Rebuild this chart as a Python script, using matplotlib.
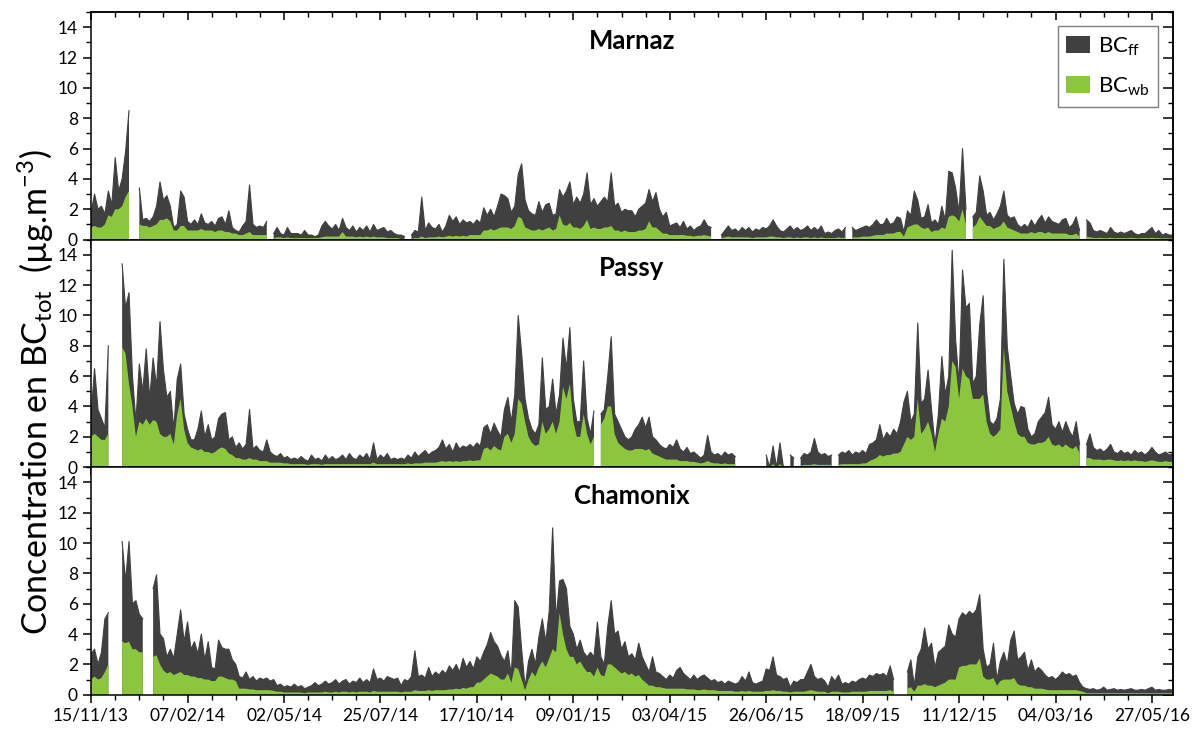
import numpy as np
import matplotlib
matplotlib.use('Agg')
import matplotlib.pyplot as plt
import matplotlib.dates as mdates
from matplotlib.patches import Patch
from matplotlib.ticker import FixedLocator, MultipleLocator

nan = np.nan

# series sampled every 3 days from 15/11/2013
start = np.datetime64('2013-11-15')
step_days = 3

sites = ['Marnaz', 'Passy', 'Chamonix']

marnaz_tot = [
    1.8, 3.0, 2.0, 2.2, 1.7, 3.2, 2.3, 5.4, 3.2, 4.0,   # d0
    5.8, 8.5, nan, nan, 3.4, 1.3, 1.4, 1.2, 1.5, 2.2,   # d30
    3.8, 2.6, 2.9, 2.2, 0.8, 1.0, 3.2, 2.8, 1.2, 1.0,   # d60
    1.3, 1.0, 1.7, 1.1, 1.0, 1.2, 0.9, 1.4, 1.5, 1.0,   # d90
    1.9, 0.8, 0.6, 0.5, 0.9, 1.2, 3.6, 1.0, 0.8, 0.9,   # d120
    0.8, 1.2, nan, 0.4, 0.8, 0.4, 0.3, 0.8, 0.4, 0.4,   # d150
    0.4, 0.3, 0.6, 0.3, 0.3, 0.2, 0.3, 0.9, 1.2, 0.9,   # d180
    0.7, 1.0, 0.6, 1.4, 0.8, 0.6, 0.9, 0.5, 0.8, 0.6,   # d210
    0.9, 0.5, 1.0, 0.6, 0.7, 0.8, 0.5, 0.6, 0.4, 0.3,   # d240
    0.3, 0.2, nan, 0.3, 0.6, 0.5, 2.8, 0.6, 1.1, 0.8,   # d270
    0.7, 1.0, 0.5, 0.9, 1.6, 1.2, 1.5, 1.0, 1.3, 1.1,   # d300
    1.2, 1.0, 1.3, 1.1, 2.1, 1.6, 2.0, 1.5, 2.2, 3.0,   # d330
    2.9, 2.7, 1.8, 2.2, 4.3, 5.0, 2.6, 1.9, 1.7, 1.6,   # d360
    2.5, 1.8, 2.3, 2.4, 1.6, 1.7, 3.3, 2.8, 3.2, 3.8,   # d390
    2.3, 2.8, 2.4, 3.0, 4.4, 2.3, 2.7, 2.2, 2.5, 2.8,   # d420
    2.5, 4.4, 2.2, 2.4, 1.8, 2.0, 1.9, 1.9, 1.5, 2.0,   # d450
    2.2, 2.4, 3.3, 2.5, 3.1, 2.0, 1.5, 1.8, 0.9, 1.0,   # d480
    1.1, 0.8, 1.2, 0.7, 0.9, 0.6, 0.8, 0.9, 1.3, 0.9,   # d510
    0.8, nan, nan, 0.3, 0.6, 0.9, 0.6, 0.7, 0.5, 0.8,   # d540
    0.6, 0.8, 0.5, 0.7, 0.6, 0.8, 0.7, 0.9, 1.3, 0.9,   # d570
    0.6, 0.5, 0.7, 0.9, 0.6, 0.8, 0.6, 0.7, 0.9, 0.6,   # d600
    0.8, 0.6, 0.9, 0.4, 0.5, 0.4, 0.6, 0.7, 0.5, 0.8,   # d630
    nan, 0.8, 0.6, 0.7, 0.8, 0.9, 0.8, 1.0, 1.3, 1.0,   # d660
    1.0, 1.4, 1.0, 1.1, 1.5, 1.4, 0.5, 1.9, 1.6, 3.2,   # d690
    2.6, 1.4, 1.5, 2.3, 1.1, 1.3, 1.0, 2.2, 1.3, 4.5,   # d720
    4.4, 3.4, 1.8, 6.0, 2.0, nan, 1.5, 1.8, 4.2, 3.2,   # d750
    1.6, 1.8, 1.3, 1.7, 2.2, 3.2, 1.6, 1.4, 1.5, 1.0,   # d780
    0.8, 1.0, 0.8, 1.3, 0.9, 1.3, 1.6, 1.1, 1.5, 1.2,   # d810
    1.1, 1.0, 1.3, 1.4, 0.8, 1.0, 1.5, 0.6, nan, 1.3,   # d840
    1.1, 0.6, 0.5, 0.6, 0.5, 0.4, 0.8, 0.5, 0.4, 0.5,   # d870
    0.4, 0.5, 0.6, 0.4, 0.3, 0.4, 0.4, 0.6, 0.8, 0.4,   # d900
    0.6, 0.3, 0.4, 0.3, 0.3,                            # d930
]
marnaz_wb = [
    0.8, 0.9, 0.8, 0.8, 1.0, 1.6, 1.5, 2.0, 2.0, 2.2,
    2.8, 3.2, nan, nan, 1.0, 0.9, 0.9, 0.8, 0.9, 1.0,
    1.3, 1.3, 1.4, 1.2, 0.6, 0.6, 0.9, 0.9, 0.6, 0.6,
    0.6, 0.6, 0.7, 0.6, 0.6, 0.6, 0.5, 0.6, 0.6, 0.5,
    0.5, 0.4, 0.4, 0.3, 0.3, 0.4, 0.5, 0.3, 0.3, 0.3,
    0.3, 0.3, nan, 0.1, 0.15, 0.15, 0.1, 0.15, 0.1, 0.1,
    0.1, 0.1, 0.1, 0.1, 0.1, 0.1, 0.1, 0.15, 0.2, 0.2,
    0.2, 0.2, 0.2, 0.5, 0.2, 0.2, 0.2, 0.15, 0.2, 0.15,
    0.2, 0.15, 0.2, 0.15, 0.15, 0.15, 0.1, 0.1, 0.1, 0.1,
    0.05, 0.05, nan, 0.05, 0.1, 0.1, 0.2, 0.1, 0.15, 0.15,
    0.15, 0.2, 0.15, 0.2, 0.25, 0.2, 0.25, 0.2, 0.25, 0.2,
    0.3, 0.3, 0.3, 0.3, 0.6, 0.6, 0.7, 0.6, 0.7, 0.8,
    0.8, 0.8, 0.7, 0.9, 1.5, 1.4, 0.8, 0.7, 0.6, 0.6,
    0.7, 0.6, 0.7, 0.8, 0.6, 0.7, 1.6, 1.0, 0.9, 1.1,
    0.8, 0.8, 0.7, 0.9, 1.3, 0.7, 0.8, 0.7, 0.7, 0.8,
    0.8, 0.9, 0.6, 0.6, 0.5, 0.6, 0.5, 0.5, 0.5, 0.6,
    0.6, 0.7, 1.2, 0.8, 0.8, 0.6, 0.4, 0.4, 0.3, 0.3,
    0.3, 0.3, 0.3, 0.25, 0.25, 0.2, 0.25, 0.25, 0.3, 0.25,
    0.2, nan, nan, 0.1, 0.15, 0.2, 0.15, 0.15, 0.15, 0.15,
    0.15, 0.15, 0.1, 0.15, 0.15, 0.15, 0.15, 0.2, 0.2, 0.15,
    0.15, 0.1, 0.15, 0.15, 0.1, 0.15, 0.1, 0.15, 0.15, 0.1,
    0.15, 0.1, 0.15, 0.1, 0.1, 0.1, 0.1, 0.15, 0.1, 0.15,
    nan, 0.15, 0.15, 0.15, 0.2, 0.2, 0.2, 0.25, 0.3, 0.3,
    0.3, 0.4, 0.4, 0.4, 0.5, 0.5, 0.2, 0.8, 0.9, 1.0,
    1.0, 0.8, 0.7, 0.8, 0.5, 0.6, 0.6, 0.8, 0.7, 1.5,
    1.6, 1.5, 1.2, 2.0, 1.0, nan, 0.8, 1.0, 1.5, 1.2,
    0.9, 0.9, 0.7, 0.8, 0.9, 1.2, 0.8, 0.7, 0.6, 0.5,
    0.4, 0.4, 0.4, 0.5, 0.4, 0.5, 0.5, 0.4, 0.5, 0.4,
    0.4, 0.4, 0.4, 0.4, 0.3, 0.3, 0.4, 0.2, nan, 0.2,
    0.15, 0.12, 0.1, 0.12, 0.1, 0.1, 0.12, 0.1, 0.1, 0.1,
    0.1, 0.1, 0.12, 0.1, 0.08, 0.1, 0.1, 0.1, 0.12, 0.1,
    0.1, 0.08, 0.1, 0.08, 0.08,
]

passy_tot = [
    3.5, 6.5, 3.8, 3.2, 2.6, 8.0, nan, nan, nan, 13.4,
    10.5, 11.5, 6.0, 3.0, 6.8, 5.0, 7.8, 4.5, 7.2, 5.3,
    9.6, 6.4, 4.6, 5.0, 2.5, 5.8, 6.8, 3.5, 2.5, 1.8,
    1.8, 2.5, 3.7, 2.0, 2.8, 1.8, 2.0, 3.2, 3.5, 3.6,
    1.8, 2.0, 1.3, 1.6, 1.2, 1.5, 3.8, 1.2, 1.4, 1.1,
    1.0, 1.8, 1.0, 0.8, 0.7, 0.9, 0.6, 0.7, 0.5, 0.6,
    0.5, 0.7, 0.5, 0.4, 0.8, 0.5, 0.6, 0.4, 0.8, 0.5,
    0.7, 0.5, 0.6, 0.8, 0.5, 0.9, 0.6, 0.5, 0.8, 0.6,
    0.9, 0.5, 1.6, 0.5, 0.8, 0.6, 0.9, 0.5, 0.6, 0.5,
    0.6, 0.5, 0.8, 0.6, 1.0, 0.7, 0.9, 1.1, 0.8, 1.0,
    1.1, 1.3, 1.8, 1.2, 1.5, 1.0, 1.6, 1.2, 1.4, 1.3,
    1.5, 1.3, 1.6, 1.4, 2.6, 2.8, 2.2, 2.9, 2.4, 2.0,
    3.8, 4.6, 3.0, 4.8, 10.0, 7.5, 4.5, 3.2, 2.5, 2.2,
    2.8, 7.2, 3.8, 4.0, 5.8, 3.5, 4.8, 8.5, 6.5, 9.2,
    4.5, 3.0, 3.0, 7.0, 3.2, 2.2, 3.7, nan, 3.5, 3.8,
    6.0, 8.6, 3.5, 3.0, 2.5, 2.0, 1.8, 2.0, 2.5, 2.8,
    3.3, 2.6, 3.3, 2.0, 1.8, 1.5, 1.3, 1.2, 1.5, 1.3,
    1.8, 1.2, 1.0, 1.3, 0.9, 1.0, 0.8, 0.6, 0.8, 2.1,
    1.0, 0.8, 0.9, 0.7, 1.0, 0.8, 0.9, 0.7, nan, nan,
    nan, nan, nan, nan, nan, nan, 0.8, 0.0, 1.4, 0.0,
    1.6, 0.0, nan, 0.8, 0.6, nan, 0.6, 0.9, 0.8, 1.0,
    1.9, 1.0, 0.8, 0.9, 0.7, 0.8, nan, 0.8, 1.0, 0.9,
    1.1, 0.8, 1.0, 0.9, 1.1, 0.9, 1.5, 1.6, 1.8, 2.8,
    1.8, 2.3, 2.0, 2.5, 2.2, 3.0, 4.3, 5.0, 3.0, 3.5,
    9.5, 4.2, 4.5, 6.4, 3.8, 1.5, 3.5, 7.3, 4.8, 6.0,
    14.3, 8.4, 5.5, 13.0, 10.5, 10.8, 5.5, 6.0, 9.4, 11.3,
    5.0, 3.0, 2.8, 3.2, 4.5, 13.7, 7.9, 6.0, 4.2, 3.5,
    4.0, 3.9, 2.5, 2.0, 2.2, 3.0, 3.3, 3.6, 4.6, 2.8,
    2.5, 3.0, 2.3, 3.0, 2.4, 2.0, 3.0, 1.5, nan, 1.5,
    2.2, 1.3, 1.1, 1.2, 1.0, 1.2, 1.5, 1.0, 0.9, 1.1,
    0.9, 1.0, 0.8, 1.1, 0.9, 1.0, 0.8, 1.0, 1.3, 1.0,
    0.8, 0.9, 1.0, 0.8, 0.9,
]
passy_wb = [
    2.0, 2.2, 2.0, 1.8, 1.8, 2.2, nan, nan, nan, 7.9,
    7.5, 5.5, 4.0, 2.0, 3.0, 2.8, 3.2, 2.8, 3.1, 3.0,
    2.2, 2.0, 2.0, 2.2, 1.5, 3.5, 4.5, 2.5, 1.6, 1.3,
    1.2, 1.1, 1.2, 1.0, 1.0, 0.9, 1.0, 1.2, 1.3, 1.2,
    0.9, 0.8, 0.6, 0.6, 0.5, 0.5, 0.6, 0.5, 0.5, 0.4,
    0.4, 0.4, 0.3, 0.3, 0.3, 0.3, 0.25, 0.25, 0.2, 0.2,
    0.2, 0.2, 0.2, 0.15, 0.2, 0.2, 0.2, 0.15, 0.2, 0.2,
    0.2, 0.2, 0.2, 0.2, 0.2, 0.2, 0.2, 0.2, 0.2, 0.2,
    0.2, 0.2, 0.3, 0.2, 0.2, 0.2, 0.2, 0.2, 0.2, 0.2,
    0.2, 0.2, 0.25, 0.2, 0.25, 0.25, 0.25, 0.3, 0.3, 0.3,
    0.3, 0.35, 0.4, 0.35, 0.4, 0.35, 0.4, 0.35, 0.4, 0.4,
    0.45, 0.4, 0.45, 0.45, 1.2, 1.3, 1.1, 1.4, 1.2, 1.1,
    2.0, 2.2, 1.6, 2.2, 4.5, 4.2, 3.0, 2.0, 1.6, 1.4,
    1.5, 3.0, 2.2, 2.5, 3.0, 2.2, 3.0, 5.3, 4.5, 5.5,
    3.0, 2.0, 2.0, 3.5, 2.2, 1.5, 2.0, nan, 2.8, 3.2,
    4.0, 4.0, 2.2, 1.6, 1.4, 1.2, 1.1, 1.1, 1.2, 1.2,
    1.2, 1.1, 1.2, 0.9, 0.8, 0.7, 0.6, 0.5, 0.5, 0.5,
    0.5, 0.4, 0.4, 0.4, 0.35, 0.35, 0.3, 0.25, 0.3, 0.4,
    0.3, 0.25, 0.25, 0.2, 0.25, 0.2, 0.2, 0.2, nan, nan,
    nan, nan, nan, nan, nan, nan, 0.1, 0.0, 0.2, 0.0,
    0.2, 0.0, nan, 0.1, 0.1, nan, 0.1, 0.15, 0.15, 0.15,
    0.2, 0.15, 0.15, 0.15, 0.15, 0.15, nan, 0.15, 0.2, 0.2,
    0.2, 0.2, 0.2, 0.2, 0.25, 0.25, 0.4, 0.5, 0.6, 0.8,
    0.7, 0.8, 0.8, 0.9, 0.9, 1.0, 1.5, 2.0, 1.8, 2.0,
    4.5, 2.2, 2.5, 3.0, 2.2, 1.0, 2.2, 3.2, 3.0, 4.0,
    7.0, 6.6, 4.5, 6.5, 6.0, 5.8, 4.5, 4.5, 4.5, 4.8,
    3.0, 2.2, 2.0, 2.2, 2.5, 7.9, 5.0, 4.0, 3.0, 2.2,
    2.0, 2.0, 1.6, 1.5, 1.5, 1.6, 1.6, 1.7, 2.0, 1.5,
    1.4, 1.5, 1.3, 1.5, 1.3, 1.2, 1.4, 0.9, nan, 0.6,
    0.6, 0.5, 0.5, 0.5, 0.45, 0.5, 0.5, 0.45, 0.4, 0.45,
    0.4, 0.45, 0.4, 0.45, 0.4, 0.4, 0.35, 0.4, 0.45, 0.4,
    0.35, 0.35, 0.4, 0.35, 0.35,
]

chamonix_tot = [
    2.7, 3.0, 2.0, 2.8, 5.0, 5.4, nan, nan, nan, 10.1,
    7.5, 10.1, 6.0, 6.2, 5.3, 5.0, nan, nan, 7.0, 7.9,
    4.0, 3.7, 2.5, 3.0, 2.4, 4.0, 5.6, 3.5, 4.8, 3.0,
    3.5, 2.7, 4.0, 2.3, 3.5, 1.8, 1.7, 3.6, 3.1, 3.0,
    3.0, 2.3, 2.0, 1.2, 1.1, 1.5, 1.0, 1.2, 0.9, 1.1,
    1.0, 1.1, 0.9, 1.0, 0.6, 0.7, 0.5, 0.6, 0.5, 0.7,
    0.5, 0.6, 0.4, 0.5, 0.6, 0.8, 0.6, 0.7, 0.9, 0.7,
    0.8, 1.0, 0.7, 0.9, 1.0, 0.7, 0.9, 0.8, 1.1, 0.8,
    1.0, 0.8, 1.7, 1.0, 1.1, 0.9, 1.2, 1.1, 1.0, 1.1,
    0.6, 1.0, 0.9, 1.2, 2.9, 1.2, 1.3, 1.1, 1.8, 1.2,
    1.5, 1.3, 1.6, 1.4, 1.9, 1.6, 2.0, 1.5, 2.4, 1.8,
    2.2, 1.7, 2.5, 2.2, 2.8, 3.3, 4.1, 3.5, 3.2, 2.6,
    2.2, 2.9, 1.3, 6.2, 5.8, 3.0, 0.5, 2.2, 3.0, 2.0,
    3.8, 5.0, 3.5, 5.5, 11.0, 5.0, 7.5, 7.6, 7.0, 4.5,
    4.0, 3.0, 3.6, 2.8, 2.5, 2.8, 2.5, 4.8, 2.5, 2.0,
    4.5, 6.2, 4.0, 4.2, 3.0, 3.5, 2.5, 2.7, 2.3, 3.4,
    2.5, 2.0, 1.5, 2.5, 1.5, 1.4, 1.2, 1.0, 1.3, 1.1,
    1.6, 1.8, 1.4, 1.2, 1.0, 1.3, 1.0, 1.2, 1.3, 1.1,
    0.9, 1.0, 0.8, 0.9, 0.7, 0.9, 0.8, 0.7, 0.8, 1.2,
    0.9, 1.5, 0.8, 0.7, 0.8, 0.9, 1.7, 1.6, 2.5, 1.3,
    1.2, 1.0, 1.1, 0.5, 0.9, 0.8, 1.0, 1.0, 1.5, 2.0,
    1.2, 1.0, 1.1, 0.9, 0.5, 1.2, 0.9, 1.3, 0.7, 0.8,
    0.7, 0.9, 0.8, 1.0, 1.1, 1.0, 1.3, 1.2, 1.4, 1.3,
    1.4, 1.2, 1.9, 1.0, nan, 0.8, nan, 1.5, 2.3, 0.6,
    2.5, 3.0, 4.4, 3.0, 3.4, 1.8, 2.8, 3.0, 3.2, 4.6,
    4.0, 3.8, 5.0, 5.4, 5.2, 5.5, 5.3, 5.6, 6.6, 3.0,
    1.8, 2.0, 3.4, 1.0, 2.2, 2.8, 2.0, 3.6, 4.2, 2.3,
    2.5, 2.8, 1.6, 2.3, 1.5, 1.8, 1.6, 1.3, 1.1, 1.2,
    1.0, 1.2, 1.5, 1.3, 1.4, 1.2, 1.3, 0.8, 0.5, 0.4,
    0.35, 0.4, 0.3, 0.35, 0.5, 0.3, 0.35, 0.4, 0.3, 0.35,
    0.3, 0.35, 0.4, 0.3, 0.3, 0.35, 0.3, 0.4, 0.5, 0.3,
    0.35, 0.3, 0.3, 0.35, 0.3,
]
chamonix_wb = [
    1.0, 1.2, 1.0, 1.1, 1.5, 2.0, nan, nan, nan, 3.5,
    3.4, 3.5, 3.0, 3.0, 2.8, 2.8, nan, nan, 2.5, 2.6,
    2.0, 1.6, 1.4, 1.5, 1.3, 1.4, 1.5, 1.3, 1.3, 1.2,
    1.2, 1.1, 1.1, 1.0, 1.0, 0.9, 0.9, 1.2, 1.2, 1.1,
    1.0, 1.0, 0.9, 0.4, 0.4, 0.4, 0.35, 0.35, 0.3, 0.3,
    0.3, 0.3, 0.3, 0.25, 0.2, 0.2, 0.15, 0.15, 0.15, 0.15,
    0.15, 0.15, 0.1, 0.15, 0.15, 0.15, 0.15, 0.15, 0.2, 0.15,
    0.15, 0.2, 0.15, 0.2, 0.2, 0.15, 0.2, 0.15, 0.2, 0.2,
    0.2, 0.15, 0.25, 0.2, 0.2, 0.2, 0.2, 0.2, 0.2, 0.2,
    0.15, 0.2, 0.2, 0.2, 0.3, 0.25, 0.25, 0.25, 0.3, 0.25,
    0.3, 0.3, 0.3, 0.3, 0.35, 0.35, 0.4, 0.35, 0.45, 0.4,
    0.5, 0.5, 0.8, 0.8, 1.0, 1.2, 1.4, 1.3, 1.2, 1.0,
    1.0, 1.4, 0.8, 1.8, 1.7, 1.0, 0.3, 1.0, 1.5, 1.2,
    1.8, 2.2, 1.8, 2.4, 3.0, 2.8, 5.4, 4.0, 3.0, 2.5,
    2.5, 2.0, 2.2, 1.8, 1.5, 1.5, 1.2, 1.8, 1.3, 1.2,
    2.0, 2.0, 1.8, 1.6, 1.4, 1.5, 1.3, 1.4, 1.2, 1.3,
    1.0, 0.8, 0.6, 0.6, 0.5, 0.5, 0.45, 0.4, 0.4, 0.4,
    0.4, 0.4, 0.4, 0.35, 0.35, 0.35, 0.3, 0.3, 0.35, 0.3,
    0.3, 0.3, 0.25, 0.25, 0.25, 0.25, 0.25, 0.2, 0.2, 0.25,
    0.2, 0.25, 0.2, 0.2, 0.2, 0.2, 0.25, 0.25, 0.3, 0.25,
    0.25, 0.2, 0.2, 0.15, 0.2, 0.2, 0.2, 0.2, 0.25, 0.3,
    0.25, 0.2, 0.2, 0.2, 0.1, 0.2, 0.2, 0.2, 0.15, 0.15,
    0.15, 0.2, 0.2, 0.2, 0.2, 0.2, 0.25, 0.25, 0.25, 0.25,
    0.25, 0.25, 0.3, 0.2, nan, 0.15, nan, 0.4, 0.5, 0.2,
    0.6, 0.6, 0.7, 0.6, 0.6, 0.5, 0.6, 0.7, 0.8, 1.0,
    1.0, 1.0, 1.8, 1.9, 1.9, 2.0, 2.0, 2.0, 2.4, 1.2,
    1.0, 1.0, 1.1, 0.6, 0.9, 1.0, 1.0, 1.0, 1.1, 0.7,
    0.6, 0.6, 0.5, 0.5, 0.4, 0.4, 0.4, 0.35, 0.3, 0.3,
    0.3, 0.3, 0.3, 0.3, 0.3, 0.3, 0.3, 0.25, 0.2, 0.1,
    0.1, 0.1, 0.1, 0.1, 0.1, 0.1, 0.1, 0.1, 0.1, 0.1,
    0.1, 0.1, 0.1, 0.1, 0.1, 0.1, 0.1, 0.1, 0.1, 0.1,
    0.1, 0.1, 0.1, 0.1, 0.1,
]

tot_series = [marnaz_tot, passy_tot, chamonix_tot]
wb_series = [marnaz_wb, passy_wb, chamonix_wb]

plt.rcParams['font.family'] = ['Lato', 'DejaVu Sans']
plt.rcParams['mathtext.default'] = 'regular'

dark = '#404040'
green = '#8cc63f'


def day_axis(values):
    offs = (np.arange(len(values)) * step_days).astype('timedelta64[D]')
    return mdates.date2num(start + offs)


x_lo = mdates.date2num(start)
x_hi = mdates.date2num(start + np.timedelta64(942, 'D'))
major = mdates.date2num(start + np.arange(0, 943, 84).astype('timedelta64[D]'))
minor = mdates.date2num(start + np.arange(0, 943, 21).astype('timedelta64[D]'))

fig, axes = plt.subplots(3, 1, figsize=(11.99, 7.29), dpi=100, sharex=True)
fig.subplots_adjust(left=0.076, right=0.978, bottom=0.047, top=0.9835, hspace=0)

for i, ax in enumerate(axes):
    tot = np.array(tot_series[i], dtype=float)
    wb = np.array(wb_series[i], dtype=float)
    xt = day_axis(tot)
    xw = day_axis(wb)
    ax.fill_between(xt, 0, tot, color=dark, lw=0)
    ax.plot(xt, tot, color=dark, lw=0.8)
    ax.fill_between(xw, 0, wb, color=green, lw=0)

    ax.set_xlim(x_lo, x_hi)
    ax.set_ylim(0, 15)
    ax.yaxis.set_major_locator(FixedLocator(np.arange(0, 15, 2)))
    ax.yaxis.set_minor_locator(MultipleLocator(1))
    ax.xaxis.set_major_locator(FixedLocator(major))
    ax.xaxis.set_minor_locator(FixedLocator(minor))
    ax.xaxis.set_major_formatter(mdates.DateFormatter('%d/%m/%y'))

    ax.tick_params(axis='both', which='major', direction='out', length=6,
                   width=1.1, labelsize=12.5, colors='black')
    ax.tick_params(axis='both', which='minor', direction='out', length=3.5, width=1.0)
    ax.tick_params(axis='x', top=False)
    ax.tick_params(axis='y', right=False)
    for sp in ax.spines.values():
        sp.set_linewidth(1.1)

    # right ticks point inward
    ry = ax.secondary_yaxis('right')
    ry.yaxis.set_major_locator(FixedLocator(np.arange(0, 15, 2)))
    ry.yaxis.set_minor_locator(MultipleLocator(1))
    ry.tick_params(which='major', direction='in', length=7, width=1.1, labelright=False)
    ry.tick_params(which='minor', direction='in', length=3.5, width=1.0)
    ry.spines['right'].set_linewidth(1.1)

    ax.text(0.5, 0.874, sites[i], transform=ax.transAxes, ha='center', va='center',
            fontsize=18.5, fontweight='bold')

# top edge ticks of the first panel point inward
tx = axes[0].secondary_xaxis('top')
tx.xaxis.set_major_locator(FixedLocator(major))
tx.xaxis.set_minor_locator(FixedLocator(minor))
tx.tick_params(which='major', direction='in', length=6, width=1.1, labeltop=False)
tx.tick_params(which='minor', direction='in', length=3.5, width=1.0)
tx.spines['top'].set_linewidth(1.1)

for ax in axes[:2]:
    ax.tick_params(axis='x', labelbottom=False)

handles = [Patch(facecolor=dark, edgecolor='none'), Patch(facecolor=green, edgecolor='none')]
leg = axes[0].legend(handles, ['BC$_{ff}$', 'BC$_{wb}$'], loc='upper right',
                     fontsize=16, frameon=True, fancybox=False, framealpha=1,
                     edgecolor='#7f7f7f', borderaxespad=0.65, handlelength=1.05,
                     handleheight=0.8, labelspacing=0.8, handletextpad=0.35,
                     borderpad=0.4)
leg.get_frame().set_linewidth(1.0)

fig.text(0.030, 0.462, 'Concentration en BC$_{tot}$  (µg.m$^{-3}$)', rotation=90,
         ha='center', va='center', fontsize=24.5)

fig.savefig('out.png', dpi=100)
